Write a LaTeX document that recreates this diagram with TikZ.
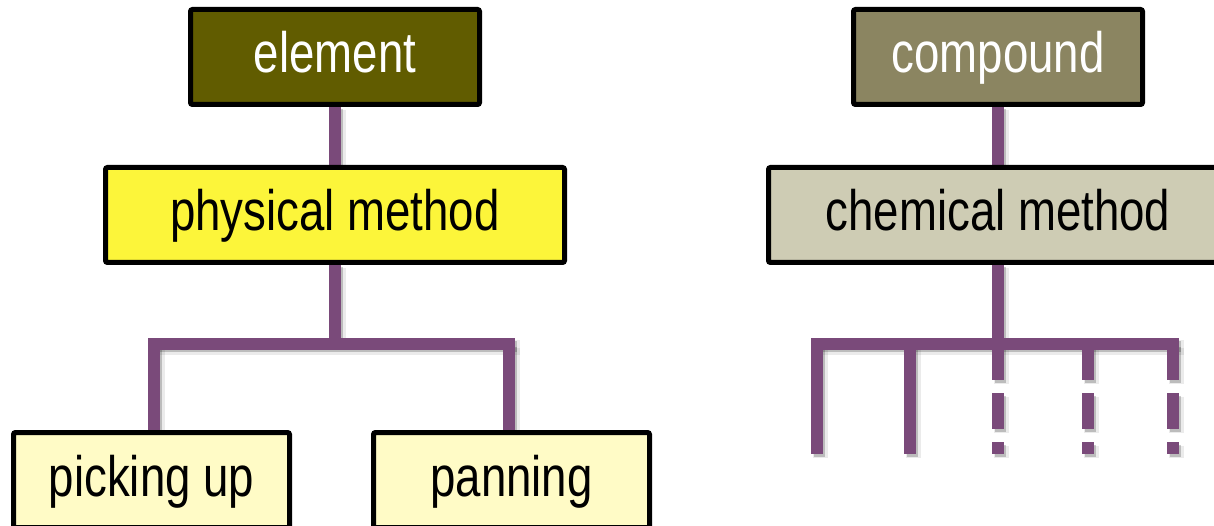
\documentclass[tikz,border=0pt]{standalone}
\usepackage{fontspec}
\setmainfont{Liberation Sans}[FakeStretch=0.8]
\usetikzlibrary{backgrounds}
\definecolor{elemfill}{RGB}{97,92,0}
\definecolor{compfill}{RGB}{139,133,97}
\definecolor{physfill}{RGB}{252,245,58}
\definecolor{chemfill}{RGB}{206,204,180}
\definecolor{leaffill}{RGB}{255,251,198}
\definecolor{branch}{RGB}{122,74,122}
\tikzset{
  box/.style={draw=black, line width=5pt, rounded corners=2pt, inner sep=0pt,
    minimum height=95pt, text height=42pt, text depth=10pt,
    font=\fontsize{57}{60}\selectfont},
  link/.style={draw=branch, line width=11.5pt},
  dashlink/.style={link, dash pattern=on 36pt off 13pt},
  halo/.style={draw=black, opacity=0.08, line width=14.5pt},
  shade/.style={draw=black, opacity=0.20, line width=11.5pt}
}
\begin{document}
\begin{tikzpicture}[x=1pt, y=-1pt]
\useasboundingbox (0,0) rectangle (1214,526);
\clip (0,0) rectangle (1214,526);

% left tree: element by physical separation
\node[box, fill=elemfill, text=white, minimum width=289pt] (el) at (335,57) {element};
\node[box, fill=physfill, minimum width=459pt] (phys) at (335,215) {physical method};
\node[box, fill=leaffill, minimum width=276pt] (pick) at (151.5,480) {picking up};
\node[box, fill=leaffill, minimum width=276pt] (pan) at (511.5,480) {panning};

% right tree: compound by chemical separation
\node[box, fill=compfill, text=white, minimum width=289pt] (comp) at (998,57) {compound};
\node[box, fill=chemfill, minimum width=459pt] (chem) at (998,215) {chemical method};

\coordinate (hubL) at (335,344);
\coordinate (bL) at (154,344);
\coordinate (bR) at (509,344);

\coordinate (hubR) at (998,344);
\coordinate (r1) at (817,344);
\coordinate (r2) at (910,344);
\coordinate (r4) at (1088,344);
\coordinate (r5) at (1173,344);
\coordinate (endR) at (0,454);

\begin{pgfonlayer}{background}
% soft drop shadows under the branches
\foreach \sty/\off in {halo/3.5, shade/2.5} {
\begin{scope}[line cap=butt, transform canvas={shift={(\off,\off)}}]
  \draw[\sty] (el.south) -- (phys.north);
  \draw[\sty] (phys.south) -- (hubL);
  \draw[\sty, line cap=rect] (bL) -- (bR);
  \draw[\sty] (bL) -- (bL |- pick.north);
  \draw[\sty] (bR) -- (bR |- pan.north);
  \draw[\sty] (comp.south) -- (chem.north);
  \draw[\sty] (chem.south) -- (hubR);
  \draw[\sty, line cap=rect] (r1) -- (r5);
  \draw[\sty] (r1) -- (r1 |- endR);
  \draw[\sty] (r2) -- (r2 |- endR);
  \draw[\sty, dash pattern=on 36pt off 13pt] (hubR) -- (hubR |- endR);
  \draw[\sty, dash pattern=on 36pt off 13pt] (r4) -- (r4 |- endR);
  \draw[\sty, dash pattern=on 36pt off 13pt] (r5) -- (r5 |- endR);
\end{scope}
}

% branches
\begin{scope}[line cap=butt]
  \draw[link] (el.south) -- (phys.north);
  \draw[link] (phys.south) -- (hubL);
  \draw[link, line cap=rect] (bL) -- (bR);
  \draw[link] (bL) -- (bL |- pick.north);
  \draw[link] (bR) -- (bR |- pan.north);

  \draw[link] (comp.south) -- (chem.north);
  \draw[link] (chem.south) -- (hubR);
  \draw[link, line cap=rect] (r1) -- (r5);
  \draw[link] (r1) -- (r1 |- endR);
  \draw[link] (r2) -- (r2 |- endR);
  \draw[dashlink] (hubR) -- (hubR |- endR);
  \draw[dashlink] (r4) -- (r4 |- endR);
  \draw[dashlink] (r5) -- (r5 |- endR);
\end{scope}
\end{pgfonlayer}
\end{tikzpicture}
\end{document}
